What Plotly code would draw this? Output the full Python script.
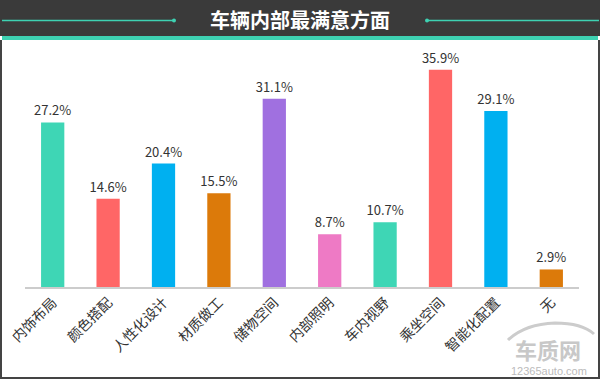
import plotly.graph_objects as go

categories = ["内饰布局", "颜色搭配", "人性化设计", "材质做工", "储物空间",
              "内部照明", "车内视野", "乘坐空间", "智能化配置", "无"]
values = [27.2, 14.6, 20.4, 15.5, 31.1, 8.7, 10.7, 35.9, 29.1, 2.9]
colors = ["#3ED6B5", "#FF6666", "#00B0F0", "#DC7A0A", "#A070E0",
          "#EE7AC5", "#3ED6B5", "#FF6666", "#00B0F0", "#DC7A0A"]
title = "车辆内部最满意方面"

W, H = 600, 379
FONT = "Noto Sans CJK SC"

def px(x):
    return x / W

def py(y):
    return 1 - y / H

fig = go.Figure(go.Bar(
    x=categories, y=values,
    marker=dict(color=colors, line=dict(width=0)),
    text=[f"{v}%" for v in values],
    textposition="outside",
    constraintext="none",
    textfont=dict(family=FONT, size=13, color="#333333"),
    cliponaxis=False,
    width=0.42,
))

shapes = [
    dict(type="rect", xref="paper", yref="paper", x0=0, x1=1, y0=py(36), y1=1,
         fillcolor="#3A3A3A", line=dict(width=0), layer="below"),
    dict(type="rect", xref="paper", yref="paper", x0=px(2), x1=px(598), y0=py(40), y1=py(36),
         fillcolor="#3ED1B2", line=dict(width=0)),
    dict(type="line", xref="paper", yref="paper", x0=px(2), x1=px(174), y0=py(20.5), y1=py(20.5),
         line=dict(color="#3ED1B2", width=1.5)),
    dict(type="line", xref="paper", yref="paper", x0=px(427), x1=px(599), y0=py(20.5), y1=py(20.5),
         line=dict(color="#3ED1B2", width=1.5)),
    dict(type="circle", xref="paper", yref="paper", x0=px(172), x1=px(176), y0=py(22.5), y1=py(18.5),
         fillcolor="#3ED1B2", line=dict(width=0)),
    dict(type="circle", xref="paper", yref="paper", x0=px(425), x1=px(429), y0=py(22.5), y1=py(18.5),
         fillcolor="#3ED1B2", line=dict(width=0)),
    dict(type="line", xref="paper", yref="paper", x0=px(1), x1=px(1), y0=py(40), y1=py(378),
         line=dict(color="#444444", width=2)),
    dict(type="line", xref="paper", yref="paper", x0=px(599), x1=px(599), y0=py(40), y1=py(378),
         line=dict(color="#444444", width=2)),
    dict(type="line", xref="paper", yref="paper", x0=px(0), x1=px(600), y0=py(378), y1=py(378),
         line=dict(color="#444444", width=2)),
    dict(type="path", xref="paper", yref="paper",
         path=f"M {px(508)},{py(340)} Q {px(525)},{py(324)} {px(555)},{py(323)} Q {px(582)},{py(323)} {px(594)},{py(334)}",
         line=dict(color="#CCCCCC", width=3)),
]

annotations = [
    dict(text=f"<b>{title}</b>", xref="paper", yref="paper", x=0.5, y=py(19.5),
         xanchor="center", yanchor="middle", showarrow=False,
         font=dict(family=FONT, size=20, color="#FFFFFF")),
    dict(text="<b>车质网</b>", xref="paper", yref="paper", x=px(548), y=py(348.5),
         xanchor="center", yanchor="middle", showarrow=False,
         font=dict(family=FONT, size=22, color="#C8C8C8")),
    dict(text="12365auto.com", xref="paper", yref="paper", x=px(549), y=py(371),
         xanchor="center", yanchor="middle", showarrow=False,
         font=dict(family="Liberation Sans", size=11, color="#BBBBBB")),
]

fig.update_layout(
    width=W, height=H,
    margin=dict(l=0, r=0, t=0, b=0),
    paper_bgcolor="#FFFFFF", plot_bgcolor="#FFFFFF",
    showlegend=False,
    shapes=shapes, annotations=annotations,
    xaxis=dict(domain=[px(25), px(579)], showgrid=False, zeroline=False,
               showline=True, linecolor="#CCCCCC", linewidth=1.5,
               ticks="", tickangle=-45, automargin=False,
               tickfont=dict(family=FONT, size=14, color="#333333")),
    yaxis=dict(domain=[py(287), py(45)], range=[0, 40], visible=False,
               automargin=False),
)

fig.write_html("out.html", post_script="document.body.style.margin='0';",
               config={"displayModeBar": False})
